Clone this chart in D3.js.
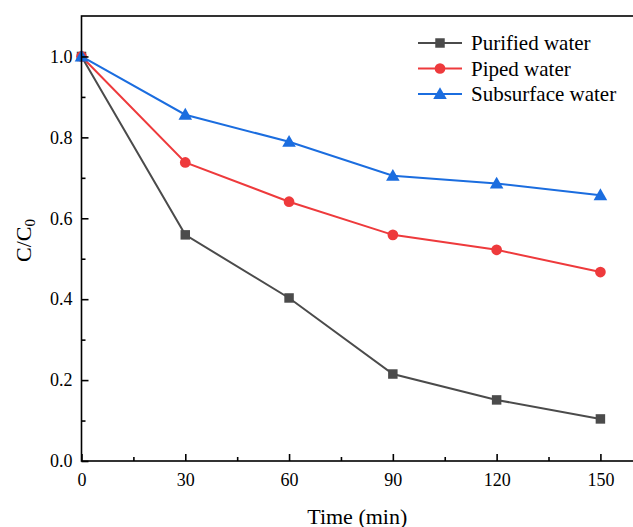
<!DOCTYPE html>
<html>
<head>
<meta charset="utf-8">
<script src="https://cdn.jsdelivr.net/npm/d3@7"></script>
<style>
  body { margin: 0; background: #fff; }
  svg { display: block; font-family: "Liberation Serif", "Times New Roman", serif; }
</style>
</head>
<body>
<script>
// data
const times = [0, 30, 60, 90, 120, 150];
const purified = [1.0, 0.559, 0.403, 0.215, 0.151, 0.104];
const piped = [1.0, 0.738, 0.641, 0.559, 0.522, 0.467];
const subsurface = [1.0, 0.856, 0.789, 0.705, 0.686, 0.657];
const seriesNames = ["Purified water", "Piped water", "Subsurface water"];
const xTicks = [0, 30, 60, 90, 120, 150];
const yTicks = [0.0, 0.2, 0.4, 0.6, 0.8, 1.0];

init();

function init() {
  let width = 633, height = 527,
      margin = {l: 81.5, r: -2, t: 16, b: 66};

  let svg = d3.select("body").append("svg")
              .attr("width", width)
              .attr("height", height);

  let x = d3.scaleLinear().domain([0, 160]).range([margin.l, width - margin.r]);
  let y = d3.scaleLinear().domain([0, 1.1]).range([height - margin.b, margin.t]);

  let series = [
    {name: seriesNames[0], values: purified, color: "#4b4b4b", shape: d3.symbolSquare},
    {name: seriesNames[1], values: piped, color: "#ee3a3c", shape: d3.symbolCircle},
    {name: seriesNames[2], values: subsurface, color: "#1b6ddf", shape: d3.symbolTriangle}
  ];

  // lines (drawn before the frame so the frame is on top)
  let line = d3.line().x((d, i) => x(times[i])).y(d => y(d));
  let g = svg.append("g");
  series.forEach(s => {
    g.append("path")
     .datum(s.values)
     .attr("fill", "none")
     .attr("stroke", s.color)
     .attr("stroke-width", 2)
     .attr("d", line);
  });
  // markers, last series on top
  series.forEach(s => {
    g.selectAll(null)
     .data(s.values)
     .enter()
     .append("path")
     .attr("transform", (d, i) => `translate(${x(times[i])},${y(d) + (s.shape === d3.symbolTriangle ? 1 : 0)})`)
     .attr("d", d3.symbol().type(s.shape).size(s.shape === d3.symbolTriangle ? 80 : 90))
     .attr("fill", s.color);
  });

  // frame
  svg.append("rect")
     .attr("x", x(0)).attr("y", y(1.1))
     .attr("width", x(160) - x(0)).attr("height", y(0) - y(1.1))
     .attr("fill", "none").attr("stroke", "#000").attr("stroke-width", 1.6);

  // axes with inward ticks
  let xAxis = svg.append("g")
     .attr("transform", `translate(0,${y(0)})`)
     .call(d3.axisTop(x).tickValues(xTicks).tickSize(7).tickFormat(d3.format("d")));
  xAxis.select(".domain").remove();
  xAxis.selectAll(".tick line").attr("stroke-width", 1.6);
  xAxis.selectAll(".tick text").attr("y", 25).attr("dy", 0)
       .attr("font-size", 18).attr("font-family", "Liberation Serif").attr("fill", "#000");
  svg.append("g")
     .attr("transform", `translate(0,${y(0)})`)
     .call(d3.axisTop(x).tickValues([15, 45, 75, 105, 135]).tickSize(4).tickFormat(""))
     .call(a => a.select(".domain").remove())
     .selectAll(".tick line").attr("stroke-width", 1.6);

  let yAxis = svg.append("g")
     .attr("transform", `translate(${x(0)},0)`)
     .call(d3.axisRight(y).tickValues(yTicks).tickSize(7).tickFormat(d3.format(".1f")));
  yAxis.select(".domain").remove();
  yAxis.selectAll(".tick line").attr("stroke-width", 1.6);
  yAxis.selectAll(".tick text").attr("x", -9).attr("text-anchor", "end")
       .attr("font-size", 18).attr("font-family", "Liberation Serif").attr("fill", "#000");
  svg.append("g")
     .attr("transform", `translate(${x(0)},0)`)
     .call(d3.axisRight(y).tickValues([0.1, 0.3, 0.5, 0.7, 0.9]).tickSize(4).tickFormat(""))
     .call(a => a.select(".domain").remove())
     .selectAll(".tick line").attr("stroke-width", 1.6);

  // axis titles
  svg.append("text")
     .attr("x", (x(0) + width) / 2).attr("y", 524)
     .attr("text-anchor", "middle")
     .attr("font-size", 22)
     .text("Time (min)");

  let yt = svg.append("text")
     .attr("transform", `translate(31,${y(0.545)}) rotate(-90)`)
     .attr("text-anchor", "middle")
     .attr("font-size", 22);
  yt.append("tspan").text("C/C");
  yt.append("tspan").attr("font-size", 15).attr("dy", 4).text("0");

  // legend
  let legend = svg.append("g");
  series.forEach((s, i) => {
    let ly = 43 + i * 25.5;
    legend.append("line")
          .attr("x1", 418).attr("x2", 462)
          .attr("y1", ly).attr("y2", ly)
          .attr("stroke", s.color).attr("stroke-width", 2);
    legend.append("path")
          .attr("transform", `translate(440,${ly + (s.shape === d3.symbolTriangle ? 1 : 0)})`)
          .attr("d", d3.symbol().type(s.shape).size(s.shape === d3.symbolTriangle ? 80 : 90))
          .attr("fill", s.color);
    legend.append("text")
          .attr("x", 471).attr("y", ly + 7)
          .attr("font-size", 21)
          .text(s.name);
  });
}
</script>
</body>
</html>
